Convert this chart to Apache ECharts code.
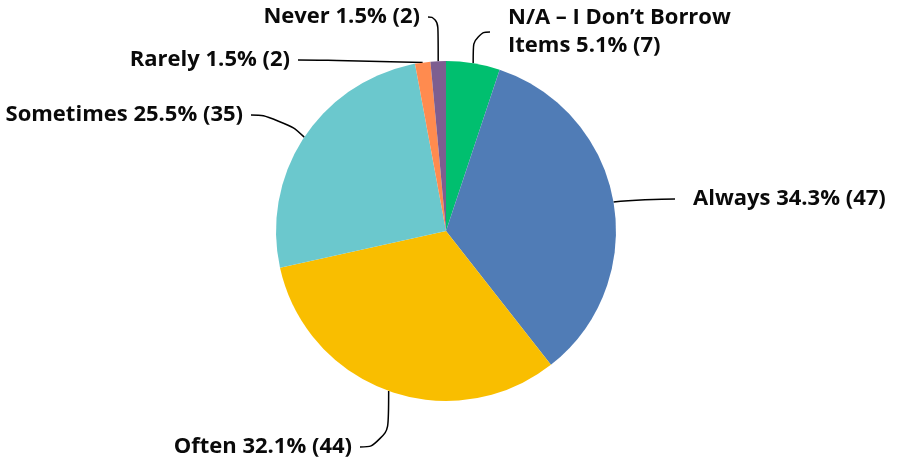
<!DOCTYPE html>
<html>
<head>
<meta charset="utf-8">
<script src="https://cdn.jsdelivr.net/npm/echarts@6/dist/echarts.min.js"></script>
<style>
  html, body { margin: 0; padding: 0; background: #fff; }
  #chart { width: 897px; height: 465px; }
</style>
</head>
<body>
<div id="chart"></div>
<script>
// answer options, clockwise from 12 o'clock
const categories = [
  "N/A \u2013 I Don\u2019t Borrow\nItems",
  "Always",
  "Often",
  "Sometimes",
  "Rarely",
  "Never"
];
const counts = [7, 47, 44, 35, 2, 2];
const percents = [5.1, 34.3, 32.1, 25.5, 1.5, 1.5];
const colors = ["#00BF6F", "#507CB6", "#F9BE00", "#6BC8CD", "#FF8B4F", "#7D5E90"];

// where each label sits (anchor x incl. padding, centre y, alignment, side gap)
const labelSpots = [
  { x: 490, y: 32, align: "left", gap: 18 },
  { x: 675, y: 199, align: "left", gap: 18 },
  { x: 360, y: 447, align: "right", gap: 8 },
  { x: 251, y: 115, align: "right", gap: 8 },
  { x: 298, y: 60, align: "right", gap: 8 },
  { x: 428, y: 17, align: "right", gap: 8 }
];

const chart = echarts.init(document.getElementById("chart"));

const option = {
  animation: false,
  color: colors,
  series: [
    {
      type: "pie",
      center: [446, 231],
      radius: 170,
      startAngle: 90,
      clockwise: true,
      itemStyle: { borderWidth: 0 },
      label: {
        show: true,
        color: "#0a0a0a",
        fontFamily: "Open Sans",
        fontWeight: "bold",
        fontSize: 22,
        lineHeight: 28,
        formatter: (p) => p.name + " " + percents[p.dataIndex].toFixed(1) + "% (" + counts[p.dataIndex] + ")"
      },
      labelLine: {
        show: true,
        length: 20,
        length2: 30,
        smooth: 0.6,
        lineStyle: { color: "#000", width: 1.5 }
      },
      labelLayout: (params) => {
        const s = labelSpots[params.dataIndex];
        return { x: s.x, y: s.y, align: s.align, verticalAlign: "middle" };
      },
      data: categories.map((name, i) => ({
        name: name,
        value: counts[i],
        label: {
          padding: labelSpots[i].align === "left" ? [0, 0, 0, labelSpots[i].gap] : [0, labelSpots[i].gap, 0, 0]
        }
      }))
    }
  ]
};

chart.setOption(option);
</script>
</body>
</html>
